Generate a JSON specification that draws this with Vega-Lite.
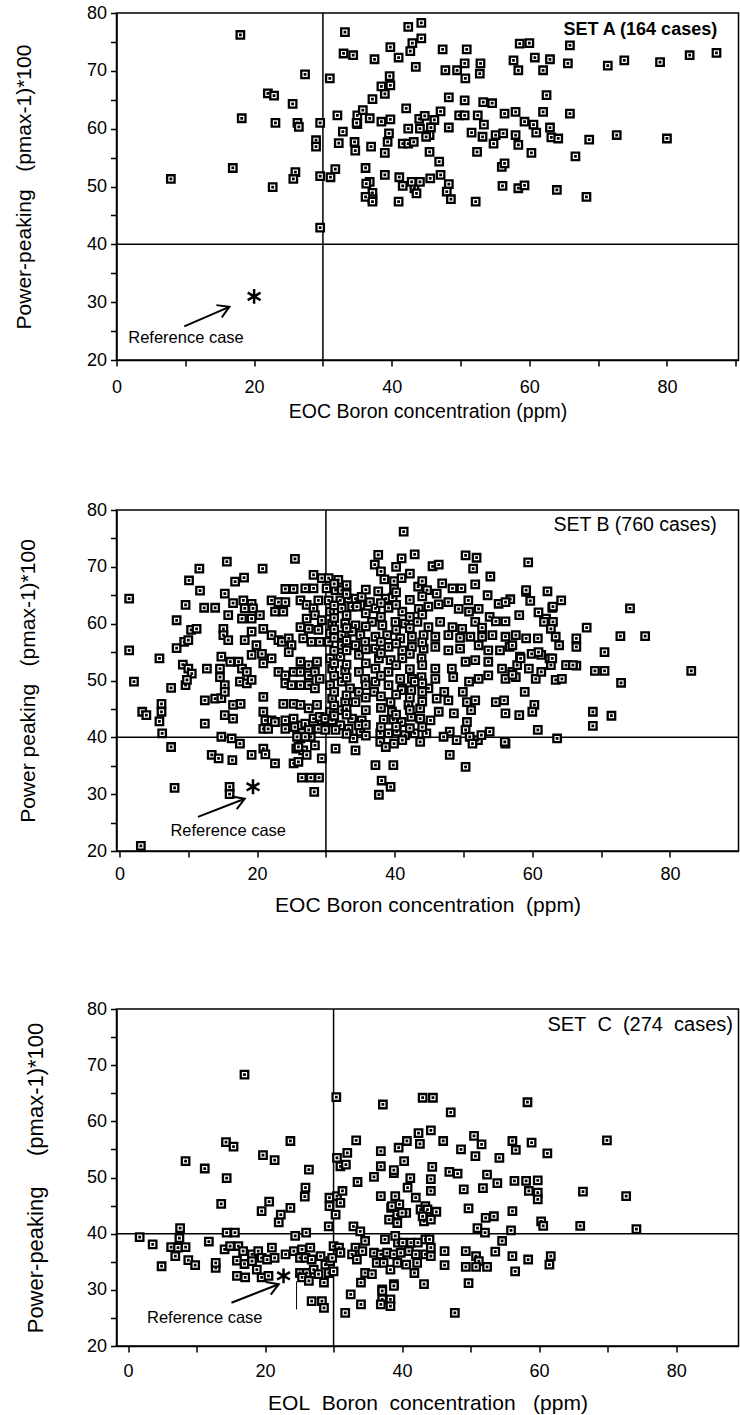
{
"$schema": "https://vega.github.io/schema/vega-lite/v6.json",
"background": "white",
"padding": {"left": 12.5, "top": 3, "right": 0, "bottom": 0},
"spacing": 78,
"config": {
 "view": {"stroke": "black", "strokeWidth": 1.5},
 "axis": {"domainColor": "black", "domainWidth": 1.5, "tickColor": "black", "tickWidth": 1.5, "tickSize": 6, "labelColor": "black", "titleColor": "black", "labelFont": "Liberation Sans", "titleFont": "Liberation Sans", "labelFontSize": 18, "titleFontWeight": "normal", "grid": false, "labelFlush": false, "labelOverlap": false},
 "text": {"font": "Liberation Sans", "color": "black"}
},
"datasets": {
 "A": [
 {"x":42.4,"y":77.6},{"x":44.3,"y":78.3},{"x":43.0,"y":74.8},{"x":42.7,"y":73.4},{"x":44.3,"y":75.6},{"x":39.8,"y":74.1},{"x":41.0,"y":72.3},{"x":37.5,"y":72.0},{"x":43.5,"y":70.7},{"x":47.4,"y":73.7},{"x":50.9,"y":73.7},{"x":47.8,"y":70.1},{"x":49.5,"y":70.1},{"x":50.6,"y":71.3},{"x":50.7,"y":68.7},{"x":52.9,"y":71.3},{"x":52.8,"y":69.5},{"x":58.6,"y":74.7},{"x":60.0,"y":74.8},{"x":57.7,"y":71.8},{"x":58.4,"y":70.1},{"x":60.8,"y":72.3},{"x":63.0,"y":72.0},{"x":62.0,"y":70.1},{"x":65.9,"y":74.4},{"x":65.6,"y":71.3},{"x":71.4,"y":70.9},{"x":73.8,"y":71.8},{"x":79.0,"y":71.5},{"x":83.3,"y":72.7},{"x":87.2,"y":73.1},{"x":39.7,"y":69.1},{"x":39.8,"y":67.5},{"x":39.0,"y":66.0},{"x":38.5,"y":67.3},{"x":37.2,"y":65.1},{"x":36.8,"y":61.8},{"x":38.5,"y":61.2},{"x":39.8,"y":61.6},{"x":39.6,"y":59.2},{"x":39.4,"y":57.7},{"x":39.0,"y":55.8},{"x":37.0,"y":56.9},{"x":42.1,"y":63.5},{"x":42.4,"y":60.0},{"x":41.6,"y":57.4},{"x":42.4,"y":57.4},{"x":43.2,"y":57.7},{"x":44.0,"y":61.7},{"x":44.8,"y":62.2},{"x":46.2,"y":61.5},{"x":47.1,"y":63.0},{"x":45.7,"y":60.2},{"x":44.1,"y":60.0},{"x":45.5,"y":58.9},{"x":45.0,"y":58.6},{"x":45.5,"y":56.0},{"x":46.9,"y":54.3},{"x":48.3,"y":60.2},{"x":48.3,"y":65.4},{"x":50.6,"y":64.9},{"x":49.8,"y":62.3},{"x":50.6,"y":62.3},{"x":51.6,"y":59.3},{"x":53.2,"y":58.6},{"x":53.3,"y":64.6},{"x":54.6,"y":64.4},{"x":52.5,"y":62.3},{"x":53.4,"y":60.7},{"x":52.4,"y":56.0},{"x":55.1,"y":58.9},{"x":56.2,"y":59.2},{"x":54.8,"y":57.4},{"x":56.4,"y":62.6},{"x":58.0,"y":62.9},{"x":59.3,"y":61.2},{"x":60.6,"y":60.7},{"x":61.0,"y":59.3},{"x":58.0,"y":58.9},{"x":58.4,"y":57.2},{"x":60.3,"y":55.8},{"x":62.0,"y":62.9},{"x":62.5,"y":65.8},{"x":63.0,"y":60.2},{"x":63.2,"y":58.5},{"x":64.2,"y":58.3},{"x":65.9,"y":62.6},{"x":68.7,"y":58.1},{"x":72.7,"y":58.9},{"x":80.0,"y":58.3},{"x":66.7,"y":55.2},{"x":56.0,"y":53.4},{"x":56.4,"y":54.0},{"x":39.0,"y":52.0},{"x":41.1,"y":51.6},{"x":41.6,"y":50.1},{"x":43.3,"y":49.7},{"x":44.1,"y":50.8},{"x":42.9,"y":50.8},{"x":43.6,"y":48.8},{"x":41.0,"y":47.4},{"x":45.6,"y":51.4},{"x":47.1,"y":52.0},{"x":48.3,"y":50.4},{"x":48.0,"y":49.1},{"x":48.6,"y":47.8},{"x":52.2,"y":47.4},{"x":56.1,"y":50.1},{"x":58.4,"y":49.7},{"x":59.3,"y":50.2},{"x":64.0,"y":49.4},{"x":68.3,"y":48.2},{"x":36.8,"y":50.8},{"x":37.2,"y":48.9},{"x":37.2,"y":47.8},
 {"x":7.9,"y":51.3},{"x":18.0,"y":76.2},{"x":18.2,"y":61.8},{"x":16.9,"y":53.2},{"x":27.4,"y":69.4},{"x":22.0,"y":66.1},{"x":22.9,"y":65.7},{"x":23.1,"y":61.0},{"x":25.6,"y":64.3},{"x":26.3,"y":61.0},{"x":26.5,"y":60.3},{"x":22.7,"y":49.9},{"x":26.0,"y":52.5},{"x":25.7,"y":51.3},{"x":29.0,"y":58.0},{"x":29.0,"y":56.9},{"x":29.6,"y":61.0},{"x":29.6,"y":51.8},{"x":29.6,"y":42.9},{"x":31.0,"y":68.7},{"x":31.1,"y":51.6},{"x":31.8,"y":53.0},{"x":32.1,"y":62.3},{"x":32.3,"y":57.5},{"x":32.9,"y":59.5},{"x":33.2,"y":76.7},{"x":33.0,"y":73.0},{"x":34.4,"y":72.7},{"x":34.6,"y":57.7},{"x":35.0,"y":62.3},{"x":35.0,"y":60.8},{"x":35.8,"y":63.2},{"x":36.2,"y":53.2},{"x":36.3,"y":50.5},{"x":36.2,"y":48.2},{"x":34.7,"y":56.2},{"x":37.2,"y":47.4},{"x":34.9,"y":61.0}
 ],
 "B": [
 {"x":1.4,"y":64.4},{"x":1.4,"y":55.3},{"x":2.1,"y":49.8},{"x":3.3,"y":44.5},{"x":3.9,"y":43.9},{"x":3.1,"y":20.9},{"x":5.8,"y":53.9},{"x":6.1,"y":45.9},{"x":6.1,"y":44.5},{"x":5.8,"y":42.8},{"x":6.2,"y":40.7},{"x":7.5,"y":48.7},{"x":7.5,"y":38.3},{"x":8.0,"y":31.1},{"x":8.3,"y":60.6},{"x":8.3,"y":55.7},{"x":9.4,"y":56.8},{"x":10.0,"y":57.1},{"x":9.6,"y":63.3},{"x":10.1,"y":67.6},{"x":10.4,"y":58.9},{"x":11.2,"y":59.1},{"x":9.2,"y":52.8},{"x":10.0,"y":52.1},{"x":10.5,"y":51.2},{"x":9.6,"y":49.2},{"x":9.8,"y":50.1},{"x":11.6,"y":69.7},{"x":11.7,"y":65.8},{"x":12.3,"y":62.8},{"x":13.9,"y":62.8},{"x":12.7,"y":52.1},{"x":12.4,"y":46.5},{"x":13.9,"y":46.8},{"x":14.8,"y":46.9},{"x":12.4,"y":42.4},{"x":15.6,"y":70.9},{"x":15.3,"y":65.3},{"x":16.5,"y":63.6},{"x":15.8,"y":61.5},{"x":15.1,"y":59.1},{"x":15.1,"y":58.0},{"x":15.8,"y":57.1},{"x":14.8,"y":54.2},{"x":14.6,"y":52.1},{"x":14.6,"y":50.6},{"x":15.3,"y":49.2},{"x":15.3,"y":48.0},{"x":16.1,"y":53.3},{"x":17.3,"y":53.3},{"x":16.5,"y":45.7},{"x":17.6,"y":45.9},{"x":15.3,"y":43.9},{"x":16.5,"y":43.3},{"x":14.8,"y":40.1},{"x":16.3,"y":39.8},{"x":17.5,"y":38.9},{"x":13.4,"y":36.9},{"x":14.4,"y":36.3},{"x":16.4,"y":36.0},{"x":16.0,"y":31.3},{"x":16.0,"y":30.0},{"x":16.8,"y":67.4},{"x":18.1,"y":68.1},
 {"x":18.0,"y":64.1},{"x":19.2,"y":63.5},{"x":18.2,"y":62.7},{"x":19.4,"y":62.7},{"x":17.8,"y":60.9},{"x":19.2,"y":60.9},{"x":20.4,"y":61.5},{"x":19.2,"y":58.6},{"x":19.9,"y":56.2},{"x":20.9,"y":59.1},{"x":18.2,"y":57.1},
 {"x":17.8,"y":52.1},{"x":18.5,"y":51.5},{"x":17.5,"y":49.8},{"x":18.5,"y":49.5},{"x":19.2,"y":50.1},{"x":19.2,"y":54.5},{"x":20.7,"y":54.7},{"x":20.9,"y":53.0},{"x":20.9,"y":47.1},
 {"x":20.9,"y":44.5},{"x":21.2,"y":43.0},{"x":20.9,"y":41.5},{"x":22.1,"y":43.0},{"x":21.6,"y":41.5},{"x":19.2,"y":36.9},{"x":20.9,"y":38.0},{"x":21.2,"y":37.0},{"x":22.6,"y":35.4},{"x":20.8,"y":69.7},
 {"x":22.1,"y":64.1},{"x":23.1,"y":63.8},{"x":22.6,"y":62.1},{"x":23.8,"y":62.1},{"x":24.1,"y":63.8},
 {"x":22.1,"y":58.0},{"x":23.1,"y":57.1},{"x":23.6,"y":56.8},{"x":24.6,"y":57.4},{"x":25.0,"y":56.2},{"x":24.6,"y":55.0},
 {"x":22.1,"y":53.9},{"x":23.1,"y":51.5},{"x":24.1,"y":50.9},{"x":25.3,"y":51.5},{"x":24.1,"y":49.5},{"x":25.0,"y":49.2},
 {"x":24.1,"y":66.1},{"x":25.3,"y":66.1},{"x":25.5,"y":71.4},{"x":23.8,"y":45.9},{"x":25.3,"y":45.9},
 {"x":22.6,"y":42.7},{"x":24.1,"y":43.0},{"x":24.1,"y":41.5},{"x":25.3,"y":43.3},{"x":25.5,"y":41.8},
 {"x":25.3,"y":35.4},{"x":26.0,"y":35.7},{"x":25.7,"y":38.0},{"x":26.5,"y":32.9},{"x":27.8,"y":32.9},{"x":29.0,"y":32.9},{"x":28.3,"y":30.4},
 {"x":28.2,"y":68.6},{"x":29.4,"y":68.0},{"x":27.0,"y":66.2},{"x":28.2,"y":66.2},{"x":26.3,"y":64.1},{"x":27.2,"y":63.3},{"x":28.2,"y":62.7},{"x":28.9,"y":64.1},{"x":27.2,"y":60.9},{"x":28.4,"y":61.5},{"x":29.4,"y":60.6},{"x":26.3,"y":59.4},{"x":27.5,"y":59.1},{"x":28.9,"y":58.9},{"x":26.7,"y":57.4},{"x":27.9,"y":56.8},{"x":29.1,"y":56.8},
 {"x":26.3,"y":53.3},{"x":27.5,"y":52.7},{"x":28.7,"y":53.3},{"x":26.3,"y":51.5},{"x":27.5,"y":50.9},{"x":28.4,"y":51.5},{"x":26.3,"y":49.2},{"x":27.5,"y":49.2},{"x":28.4,"y":48.6},{"x":29.1,"y":50.3},
 {"x":26.3,"y":45.7},{"x":27.5,"y":45.1},{"x":28.7,"y":45.7},{"x":28.2,"y":43.3},{"x":29.4,"y":43.0},{"x":26.5,"y":42.1},{"x":27.8,"y":41.5},{"x":28.9,"y":41.5},{"x":29.1,"y":43.6},
 {"x":26.3,"y":39.8},{"x":27.8,"y":40.1},{"x":26.7,"y":37.7},{"x":28.4,"y":38.6},{"x":27.2,"y":36.9},{"x":29.4,"y":36.3},
 {"x":30.4,"y":68.0},{"x":31.8,"y":67.7},{"x":30.1,"y":66.2},{"x":31.4,"y":65.9},{"x":32.3,"y":65.9},{"x":30.4,"y":64.1},{"x":32.1,"y":64.1},{"x":33.3,"y":64.4},{"x":34.3,"y":64.4},{"x":30.6,"y":62.1},{"x":32.3,"y":62.7},{"x":33.8,"y":63.0},{"x":35.0,"y":63.3},{"x":30.9,"y":60.0},{"x":32.8,"y":60.0},{"x":34.3,"y":59.7},{"x":30.6,"y":58.3},{"x":32.3,"y":58.0},{"x":33.8,"y":58.6},{"x":35.0,"y":58.0},{"x":30.4,"y":56.8},{"x":32.3,"y":56.2},{"x":34.3,"y":56.2},{"x":35.7,"y":56.8},
 {"x":30.6,"y":53.9},{"x":32.1,"y":54.2},{"x":34.8,"y":54.5},{"x":30.9,"y":52.1},{"x":32.8,"y":51.8},{"x":34.8,"y":51.5},{"x":35.7,"y":50.3},{"x":30.6,"y":49.2},{"x":32.3,"y":49.8},{"x":33.5,"y":48.6},{"x":34.8,"y":48.0},{"x":30.9,"y":46.8},{"x":32.8,"y":46.2},{"x":34.3,"y":46.2},{"x":30.6,"y":44.5},{"x":32.3,"y":44.8},{"x":33.8,"y":43.3},{"x":35.2,"y":43.0},{"x":30.9,"y":42.7},{"x":31.9,"y":42.1},{"x":33.3,"y":41.5},{"x":35.0,"y":41.0},{"x":34.0,"y":39.8},{"x":34.3,"y":37.7},
 {"x":35.2,"y":64.7},{"x":36.4,"y":63.8},{"x":34.5,"y":63.0},{"x":29.9,"y":43.3},{"x":30.9,"y":43.0},{"x":32.1,"y":42.1},{"x":34.8,"y":42.1},{"x":29.9,"y":41.3},{"x":31.4,"y":41.3},{"x":27.0,"y":42.4},{"x":27.5,"y":41.3},{"x":25.8,"y":40.1},{"x":27.0,"y":40.1},{"x":26.0,"y":38.3},{"x":31.4,"y":38.0},
 {"x":41.3,"y":76.2},{"x":37.6,"y":72.1},{"x":37.1,"y":70.4},{"x":41.0,"y":71.5},{"x":42.9,"y":72.2},{"x":45.5,"y":70.1},{"x":46.4,"y":70.4},{"x":50.3,"y":72.0},{"x":51.9,"y":71.6},{"x":51.4,"y":69.7},{"x":59.4,"y":70.8},{"x":53.9,"y":68.3},
 {"x":38.5,"y":67.8},{"x":39.9,"y":67.5},{"x":41.0,"y":68.0},{"x":37.6,"y":65.7},{"x":39.9,"y":66.1},{"x":38.7,"y":64.4},{"x":39.7,"y":64.6},
 {"x":43.4,"y":66.5},{"x":44.7,"y":65.9},{"x":46.9,"y":67.1},{"x":46.1,"y":65.3},{"x":48.4,"y":66.2},{"x":49.7,"y":66.2},{"x":51.7,"y":66.9},{"x":53.5,"y":65.0},{"x":50.7,"y":64.1},
 {"x":55.1,"y":63.5},{"x":56.8,"y":64.3},{"x":56.1,"y":63.8},{"x":59.1,"y":65.6},{"x":59.7,"y":64.0},{"x":62.2,"y":65.7},{"x":62.9,"y":62.8},{"x":60.9,"y":62.0},{"x":58.1,"y":61.5},{"x":62.0,"y":60.9},{"x":63.0,"y":60.3},
 {"x":37.2,"y":62.7},{"x":39.1,"y":62.8},{"x":41.1,"y":62.1},{"x":43.5,"y":62.6},{"x":44.9,"y":63.0},{"x":46.4,"y":63.4},{"x":47.8,"y":63.8},{"x":49.3,"y":62.6},{"x":50.8,"y":62.1},{"x":52.2,"y":62.6},{"x":53.8,"y":61.2},{"x":54.7,"y":60.4},{"x":56.1,"y":60.4},
 {"x":36.7,"y":60.3},{"x":38.2,"y":59.7},{"x":40.1,"y":60.3},{"x":41.5,"y":60.0},{"x":43.3,"y":60.3},{"x":44.9,"y":59.4},{"x":46.6,"y":60.3},{"x":48.4,"y":59.4},{"x":49.8,"y":59.1},{"x":51.7,"y":60.3},{"x":52.7,"y":59.3},
 {"x":37.2,"y":57.7},{"x":38.9,"y":58.0},{"x":40.8,"y":57.4},{"x":42.5,"y":57.7},{"x":44.2,"y":58.0},{"x":45.9,"y":57.7},{"x":47.8,"y":58.0},{"x":49.5,"y":57.5},{"x":51.0,"y":57.7},{"x":52.7,"y":57.7},{"x":54.2,"y":58.0},{"x":56.1,"y":57.7},{"x":57.6,"y":58.0},{"x":59.1,"y":57.4},{"x":60.8,"y":57.4},
 {"x":37.2,"y":55.6},{"x":39.1,"y":55.9},{"x":41.1,"y":55.3},{"x":42.5,"y":55.9},{"x":44.2,"y":55.6},{"x":45.9,"y":55.9},{"x":47.8,"y":55.3},{"x":49.5,"y":55.6},{"x":52.2,"y":56.2},{"x":53.6,"y":55.3},{"x":55.3,"y":55.3},{"x":56.7,"y":55.9},{"x":58.2,"y":54.2},{"x":59.9,"y":54.7},{"x":61.3,"y":54.5},{"x":62.5,"y":53.9},
 {"x":37.7,"y":53.9},{"x":39.4,"y":53.6},{"x":41.1,"y":53.9},{"x":43.9,"y":53.9},{"x":45.9,"y":52.1},{"x":48.3,"y":52.1},{"x":50.3,"y":53.3},{"x":51.7,"y":53.6},{"x":53.6,"y":53.3},{"x":55.6,"y":52.1},{"x":57.1,"y":51.5},{"x":43.9,"y":50.6},{"x":45.9,"y":50.3},{"x":48.5,"y":50.6},{"x":50.8,"y":49.8},{"x":56.1,"y":50.3},{"x":57.6,"y":50.6},{"x":60.5,"y":50.3},
 {"x":37.2,"y":52.1},{"x":39.1,"y":51.5},{"x":40.8,"y":50.3},{"x":42.5,"y":50.3},
 {"x":37.2,"y":49.8},{"x":39.1,"y":49.2},{"x":41.1,"y":48.6},{"x":42.9,"y":49.8},{"x":44.9,"y":48.6},{"x":52.2,"y":50.3},{"x":53.6,"y":50.9},{"x":57.8,"y":52.7},{"x":59.5,"y":52.1},{"x":61.3,"y":51.5},{"x":62.7,"y":52.7},
 {"x":74.2,"y":62.7},{"x":72.8,"y":57.8},{"x":76.4,"y":57.8},{"x":67.9,"y":59.3},{"x":66.4,"y":57.4},{"x":66.4,"y":55.9},{"x":70.5,"y":55.0},{"x":83.1,"y":51.7},{"x":69.1,"y":51.7},{"x":70.5,"y":51.7},{"x":66.4,"y":52.6},{"x":65.1,"y":52.7},{"x":72.9,"y":49.6},{"x":63.4,"y":50.1},{"x":64.3,"y":50.3},{"x":58.9,"y":48.0},{"x":60.3,"y":45.7},{"x":60.0,"y":44.5},{"x":68.8,"y":44.5},{"x":68.8,"y":42.0},{"x":71.5,"y":43.8},{"x":58.1,"y":43.9},{"x":56.1,"y":44.2},{"x":54.7,"y":46.2},{"x":55.9,"y":46.5},{"x":60.8,"y":41.3},{"x":63.6,"y":39.8},{"x":56.1,"y":38.9},{"x":50.3,"y":34.8},{"x":48.0,"y":36.9},{"x":37.2,"y":35.1},{"x":39.8,"y":35.1},{"x":38.1,"y":32.4},{"x":39.4,"y":31.3},{"x":37.7,"y":29.9},
 {"x":59.1,"y":65.9},{"x":63.0,"y":63.0},{"x":64.2,"y":64.1},{"x":61.7,"y":60.3},{"x":62.7,"y":59.1},{"x":63.4,"y":57.7},{"x":63.9,"y":56.2},{"x":60.9,"y":55.0},{"x":62.9,"y":53.9},{"x":64.9,"y":52.7},{"x":65.9,"y":52.7},{"x":57.1,"y":56.2},{"x":58.3,"y":53.9},{"x":57.1,"y":51.0},
 {"x":41.0,"y":48.3},{"x":42.4,"y":48.3},{"x":44.0,"y":48.0},{"x":47.2,"y":48.0},{"x":49.9,"y":48.0},
 {"x":39.4,"y":46.2},{"x":42.0,"y":45.7},{"x":43.7,"y":45.1},{"x":46.1,"y":46.8},{"x":47.8,"y":46.5},{"x":50.5,"y":46.2},{"x":51.7,"y":46.5},
 {"x":39.6,"y":44.5},{"x":43.7,"y":43.3},{"x":45.2,"y":43.0},{"x":46.4,"y":44.5},{"x":48.6,"y":44.2},{"x":51.1,"y":44.8},
 {"x":38.4,"y":43.1},{"x":39.8,"y":43.1},{"x":41.0,"y":42.7},{"x":42.4,"y":43.6},{"x":50.5,"y":42.7},{"x":50.3,"y":41.3},
 {"x":37.9,"y":40.7},{"x":39.1,"y":40.7},{"x":40.3,"y":41.0},{"x":41.5,"y":40.4},{"x":42.9,"y":40.7},{"x":44.6,"y":40.7},{"x":48.0,"y":41.0},{"x":49.0,"y":39.5},{"x":50.9,"y":40.1},{"x":52.1,"y":39.5},{"x":52.6,"y":40.4},{"x":53.8,"y":41.0},{"x":56.0,"y":39.2},
 {"x":37.9,"y":39.2},{"x":38.7,"y":38.3},{"x":39.9,"y":38.9},{"x":41.1,"y":39.5},{"x":43.7,"y":39.2},{"x":47.1,"y":40.1},{"x":51.3,"y":38.9},{"x":37.0,"y":48.0},
 {"x":31.2,"y":67.0},{"x":31.2,"y":63.2},{"x":31.2,"y":61.0},{"x":31.2,"y":59.0},{"x":31.2,"y":57.5},{"x":31.2,"y":55.2},{"x":31.2,"y":53.0},{"x":31.2,"y":50.8},{"x":31.2,"y":48.0},{"x":31.2,"y":45.6},{"x":31.2,"y":43.8},
 {"x":33.0,"y":66.8},{"x":33.0,"y":65.2},{"x":33.0,"y":61.5},{"x":33.0,"y":59.2},{"x":33.0,"y":57.0},{"x":33.0,"y":55.3},{"x":33.0,"y":52.8},{"x":33.0,"y":50.5},{"x":33.0,"y":47.4},{"x":33.0,"y":45.0},{"x":33.0,"y":44.0},{"x":33.0,"y":40.6},
 {"x":35.8,"y":66.0},{"x":35.8,"y":61.8},{"x":35.8,"y":59.5},{"x":35.8,"y":55.5},{"x":35.8,"y":53.0},{"x":35.8,"y":49.2},{"x":35.8,"y":47.0},{"x":35.8,"y":44.8},{"x":35.8,"y":42.2},{"x":35.8,"y":40.3},
 {"x":38.0,"y":69.2},{"x":38.0,"y":63.6},{"x":38.0,"y":61.2},{"x":38.0,"y":56.8},{"x":38.0,"y":54.8},{"x":38.0,"y":50.8},{"x":38.0,"y":47.2},{"x":38.0,"y":45.2},{"x":38.0,"y":41.8},
 {"x":40.2,"y":70.0},{"x":40.2,"y":65.5},{"x":40.2,"y":63.3},{"x":40.2,"y":58.9},{"x":40.2,"y":56.5},{"x":40.2,"y":52.7},{"x":40.2,"y":47.5},{"x":40.2,"y":44.0},{"x":40.2,"y":41.9},
 {"x":42.2,"y":68.8},{"x":42.2,"y":64.2},{"x":42.2,"y":61.2},{"x":42.2,"y":59.2},{"x":42.2,"y":54.7},{"x":42.2,"y":52.0},{"x":42.2,"y":47.0},{"x":42.2,"y":44.8},{"x":42.2,"y":41.6},
 {"x":44.0,"y":67.5},{"x":44.0,"y":64.8},{"x":44.0,"y":61.6},{"x":44.0,"y":56.7},{"x":44.0,"y":52.7},{"x":44.0,"y":49.5},{"x":44.0,"y":46.3},{"x":44.0,"y":41.8}
 ],
 "C": [
 {"x":1.7,"y":39.4},{"x":3.6,"y":38.1},{"x":4.9,"y":34.2},{"x":6.3,"y":37.6},{"x":7.3,"y":37.5},{"x":6.9,"y":36.0},{"x":7.5,"y":39.2},{"x":7.6,"y":41.0},{"x":8.4,"y":37.6},{"x":8.8,"y":35.3},{"x":9.8,"y":34.4},{"x":8.4,"y":52.9},{"x":11.2,"y":51.6},{"x":11.8,"y":38.6},{"x":12.8,"y":33.9},{"x":12.8,"y":34.8},{"x":13.6,"y":45.3},{"x":14.3,"y":56.3},{"x":15.4,"y":55.5},{"x":14.4,"y":49.9},{"x":14.4,"y":40.2},{"x":15.6,"y":40.2},{"x":14.1,"y":37.2},{"x":14.9,"y":37.8},{"x":16.1,"y":37.8},{"x":16.8,"y":36.9},{"x":15.9,"y":35.2},{"x":17.0,"y":34.6},{"x":15.9,"y":32.5},{"x":17.1,"y":32.2},{"x":17.0,"y":68.3},
 {"x":18.1,"y":36.3},{"x":18.1,"y":35.1},{"x":19.0,"y":36.9},{"x":19.5,"y":35.7},{"x":20.3,"y":35.4},{"x":21.0,"y":37.5},{"x":18.8,"y":33.6},{"x":19.5,"y":32.2},{"x":20.5,"y":32.5},{"x":21.4,"y":35.7},
 {"x":19.5,"y":44.0},{"x":19.7,"y":54.0},{"x":20.6,"y":45.7},{"x":21.4,"y":53.1},{"x":22.0,"y":42.0},{"x":22.3,"y":43.4},{"x":23.7,"y":44.6},{"x":23.7,"y":56.5},{"x":23.0,"y":36.3},{"x":24.2,"y":36.9},{"x":24.4,"y":39.6},{"x":25.8,"y":46.6},{"x":25.9,"y":48.2},{"x":26.4,"y":51.4},
 {"x":25.4,"y":37.2},{"x":26.6,"y":37.5},{"x":25.1,"y":35.7},{"x":25.9,"y":35.7},{"x":26.8,"y":35.4},{"x":25.1,"y":33.0},{"x":26.1,"y":33.0},{"x":27.1,"y":33.6},{"x":25.4,"y":32.2},{"x":26.4,"y":31.6},
 {"x":26.8,"y":28.0},{"x":28.3,"y":28.0},{"x":28.6,"y":26.8},
 {"x":28.1,"y":36.0},{"x":28.8,"y":34.5},{"x":27.8,"y":32.8},{"x":28.6,"y":31.3},{"x":29.3,"y":33.0},{"x":29.5,"y":35.1},
 {"x":29.3,"y":41.3},{"x":29.4,"y":44.9},{"x":29.4,"y":46.4},{"x":30.3,"y":43.4},{"x":30.5,"y":46.7},
 {"x":30.4,"y":64.3},{"x":30.5,"y":53.5},{"x":31.0,"y":52.0},{"x":32.0,"y":54.4},{"x":31.8,"y":52.3},{"x":31.3,"y":47.6},{"x":31.0,"y":45.5},{"x":33.3,"y":56.6},{"x":33.5,"y":49.2},
 {"x":30.0,"y":37.8},{"x":30.8,"y":37.5},{"x":29.8,"y":35.7},{"x":30.0,"y":33.3},{"x":31.7,"y":25.9},{"x":32.5,"y":29.2},{"x":34.0,"y":27.4},
 {"x":32.9,"y":41.3},{"x":33.9,"y":40.4},{"x":34.6,"y":38.7},{"x":33.2,"y":37.5},{"x":34.2,"y":36.9},{"x":32.7,"y":36.3},{"x":34.0,"y":31.3},{"x":34.6,"y":33.0},
 {"x":31.0,"y":36.6},{"x":33.4,"y":35.4},{"x":26.0,"y":40.2},
 {"x":35.9,"y":50.1},{"x":38.8,"y":50.8},{"x":36.9,"y":46.7},{"x":38.4,"y":44.6},{"x":39.6,"y":45.2},{"x":40.6,"y":43.7},{"x":39.3,"y":41.9},{"x":38.1,"y":42.5},{"x":41.2,"y":49.9},{"x":40.8,"y":48.2},{"x":42.0,"y":46.4},{"x":44.2,"y":49.7},{"x":44.2,"y":47.6},{"x":42.7,"y":44.3},{"x":43.4,"y":44.9},{"x":44.2,"y":43.4},{"x":43.2,"y":42.2},
 {"x":37.5,"y":39.0},{"x":39.4,"y":38.4},{"x":40.1,"y":38.4},{"x":41.3,"y":38.4},{"x":42.3,"y":38.4},{"x":43.4,"y":39.0},
 {"x":35.9,"y":36.6},{"x":36.9,"y":36.3},{"x":37.8,"y":36.6},{"x":38.8,"y":36.3},{"x":39.8,"y":36.6},{"x":41.0,"y":36.9},{"x":42.0,"y":36.3},{"x":43.4,"y":36.3},{"x":44.2,"y":37.5},{"x":44.2,"y":36.0},
 {"x":36.3,"y":34.8},{"x":37.3,"y":34.8},{"x":38.3,"y":33.6},{"x":39.3,"y":34.8},{"x":40.6,"y":34.5},{"x":41.8,"y":33.0},{"x":42.2,"y":34.8},{"x":35.6,"y":32.8},
 {"x":37.1,"y":30.1},{"x":38.8,"y":31.0},{"x":37.1,"y":28.3},{"x":38.3,"y":28.3},{"x":36.9,"y":27.4},{"x":38.3,"y":27.1},{"x":43.2,"y":31.0},
 {"x":37.2,"y":63.0},{"x":43.0,"y":64.2},{"x":44.5,"y":64.2},{"x":47.1,"y":61.6},{"x":58.3,"y":63.4},{"x":42.4,"y":57.9},{"x":44.2,"y":58.4},{"x":42.6,"y":56.0},{"x":40.7,"y":56.5},{"x":39.5,"y":55.3},{"x":46.0,"y":56.5},{"x":36.9,"y":54.7},{"x":48.6,"y":55.0},{"x":50.5,"y":57.4},{"x":51.6,"y":55.9},{"x":50.7,"y":53.8},{"x":54.2,"y":53.5},{"x":56.1,"y":56.5},{"x":56.6,"y":54.9},{"x":58.9,"y":56.2},{"x":61.2,"y":54.3},{"x":69.9,"y":56.6},
 {"x":40.3,"y":52.9},{"x":38.8,"y":51.3},{"x":36.9,"y":52.0},{"x":44.4,"y":51.9},{"x":46.9,"y":51.0},{"x":48.1,"y":50.7},
 {"x":39.0,"y":46.7},{"x":38.5,"y":44.9},{"x":39.3,"y":43.4},{"x":40.0,"y":43.7},{"x":43.7,"y":44.3},{"x":45.0,"y":43.9},{"x":43.0,"y":43.1},{"x":44.2,"y":42.5},
 {"x":49.0,"y":47.9},{"x":51.8,"y":48.1},{"x":49.7,"y":44.5},{"x":52.4,"y":50.5},{"x":53.9,"y":49.0},{"x":56.4,"y":49.4},{"x":58.1,"y":49.4},{"x":59.8,"y":49.5},{"x":58.5,"y":47.6},{"x":59.8,"y":47.3},{"x":59.8,"y":46.1},{"x":66.4,"y":47.5},{"x":72.7,"y":46.7},{"x":52.2,"y":42.8},{"x":53.4,"y":43.1},{"x":56.1,"y":44.0},{"x":51.0,"y":41.0},{"x":52.1,"y":40.2},{"x":55.9,"y":40.6},{"x":60.3,"y":42.2},{"x":60.6,"y":41.4},{"x":66.0,"y":41.4},{"x":74.2,"y":40.8},
 {"x":54.6,"y":38.7},{"x":53.6,"y":36.8},{"x":56.1,"y":36.0},{"x":56.5,"y":33.3},{"x":58.4,"y":35.4},{"x":61.7,"y":36.0},{"x":61.5,"y":34.5},
 {"x":49.3,"y":36.9},{"x":50.8,"y":36.0},{"x":51.2,"y":35.1},{"x":52.4,"y":34.1},{"x":49.3,"y":34.1},{"x":50.8,"y":34.1},{"x":49.7,"y":31.2},{"x":47.7,"y":25.9},{"x":46.2,"y":36.9},{"x":46.2,"y":34.4},{"x":44.0,"y":39.0},{"x":39.0,"y":39.6},
 {"x":38.8,"y":30.7},{"x":37.1,"y":29.8}
 ]
},
"vconcat": [
 {
  "width": 622, "height": 347,
  "encoding": {
   "x": {"field": "x", "type": "quantitative", "scale": {"domain": [0, 90.4], "nice": false, "zero": false},
    "axis": {"title": "EOC Boron concentration (ppm)", "titleFontSize": 19.5, "values": [0,10,20,30,40,50,60,70,80,90], "labelExpr": "datum.value % 20 === 0 ? datum.label : ''", "labelPadding": 12, "titlePadding": 6}},
   "y": {"field": "y", "type": "quantitative", "scale": {"domain": [20, 80], "nice": false, "zero": false},
    "axis": {"title": "Power-peaking\u00a0\u00a0 (pmax-1)*100", "titleFontSize": 21, "values": [20,25,30,35,40,45,50,55,60,65,70,75,80], "labelExpr": "datum.value % 10 === 0 ? datum.label : ''", "labelPadding": 4, "titlePadding": 51.5}}
  },
  "layer": [
   {"data": {"values": [{"x": 30, "y": 20, "y2": 80}]}, "mark": {"type": "rule", "color": "black", "strokeWidth": 1.5}, "encoding": {"y2": {"field": "y2"}}},
   {"data": {"values": [{"x": 0, "x2": 90.4, "y": 40}]}, "mark": {"type": "rule", "color": "black", "strokeWidth": 1.5}, "encoding": {"x2": {"field": "x2"}}},
   {"data": {"name": "A"}, "mark": {"type": "point", "shape": "M-1,-1H1V1H-1ZM-0.06,-0.06H0.06V0.06H-0.06Z", "size": 56, "filled": true, "fill": "white", "stroke": "black", "strokeWidth": 2.3, "opacity": 1}},
   {"data": {"values": [{"x": 20, "y": 31}]}, "mark": {"type": "point", "shape": "M0,-1L0,1M-0.866,-0.5L0.866,0.5M-0.866,0.5L0.866,-0.5", "size": 220, "filled": false, "stroke": "black", "strokeWidth": 2.5, "opacity": 1}},
   {"data": {"values": [{"x": 9.85, "y": 25.8, "x2": 16.4, "y2": 29.2}]}, "mark": {"type": "rule", "color": "black", "strokeWidth": 2}, "encoding": {"x2": {"field": "x2"}, "y2": {"field": "y2"}}},
   {"data": {"values": [{"x": 16.4, "y": 29.2}]}, "mark": {"type": "point", "shape": "M-1,-0.6L0,0L-1,0.6", "size": 500, "filled": false, "stroke": "black", "strokeWidth": 2, "angle": -23.6, "opacity": 1}},
   {"data": {"values": [{"x": 10.1, "y": 23.8, "t": "Reference case"}]}, "mark": {"type": "text", "fontSize": 16.5, "align": "center", "baseline": "middle"}, "encoding": {"text": {"field": "t"}}},
   {"data": {"values": [{"x": 87.3, "y": 77.0, "t": "SET A (164 cases)"}]}, "mark": {"type": "text", "fontSize": 18, "fontWeight": "bold", "align": "right", "baseline": "middle"}, "encoding": {"text": {"field": "t"}}}
  ]
 },
 {
  "width": 622, "height": 341,
  "encoding": {
   "x": {"field": "x", "type": "quantitative", "scale": {"domain": [-0.44, 89.97], "nice": false, "zero": false},
    "axis": {"title": "EOC Boron concentration\u00a0 (ppm)", "titleFontSize": 21, "values": [0,10,20,30,40,50,60,70,80], "labelExpr": "datum.value % 20 === 0 ? datum.label : ''", "labelPadding": 8.8, "titlePadding": 10.7}},
   "y": {"field": "y", "type": "quantitative", "scale": {"domain": [20, 80], "nice": false, "zero": false},
    "axis": {"title": "Power peaking\u00a0\u00a0 (pmax-1)*100", "titleFontSize": 21, "values": [20,25,30,35,40,45,50,55,60,65,70,75,80], "labelExpr": "datum.value % 10 === 0 ? datum.label : ''", "labelPadding": 4, "titlePadding": 47.5}}
  },
  "layer": [
   {"data": {"values": [{"x": 30, "y": 20, "y2": 80}]}, "mark": {"type": "rule", "color": "black", "strokeWidth": 1.5}, "encoding": {"y2": {"field": "y2"}}},
   {"data": {"values": [{"x": -0.44, "x2": 89.97, "y": 40}]}, "mark": {"type": "rule", "color": "black", "strokeWidth": 1.5}, "encoding": {"x2": {"field": "x2"}}},
   {"data": {"name": "B"}, "mark": {"type": "point", "shape": "M-1,-1H1V1H-1ZM-0.06,-0.06H0.06V0.06H-0.06Z", "size": 56, "filled": true, "fill": "white", "stroke": "black", "strokeWidth": 2.3, "opacity": 1}},
   {"data": {"values": [{"x": 19.4, "y": 31.3}]}, "mark": {"type": "point", "shape": "M0,-1L0,1M-0.866,-0.5L0.866,0.5M-0.866,0.5L0.866,-0.5", "size": 220, "filled": false, "stroke": "black", "strokeWidth": 2.5, "opacity": 1}},
   {"data": {"values": [{"x": 11.4, "y": 26.0, "x2": 18.2, "y2": 29.2}]}, "mark": {"type": "rule", "color": "black", "strokeWidth": 2}, "encoding": {"x2": {"field": "x2"}, "y2": {"field": "y2"}}},
   {"data": {"values": [{"x": 18.2, "y": 29.2}]}, "mark": {"type": "point", "shape": "M-1,-0.6L0,0L-1,0.6", "size": 500, "filled": false, "stroke": "black", "strokeWidth": 2, "angle": -21.3, "opacity": 1}},
   {"data": {"values": [{"x": 15.8, "y": 23.5, "t": "Reference case"}]}, "mark": {"type": "text", "fontSize": 16.5, "align": "center", "baseline": "middle"}, "encoding": {"text": {"field": "t"}}},
   {"data": {"values": [{"x": 86.8, "y": 77.4, "t": "SET B (760 cases)"}]}, "mark": {"type": "text", "fontSize": 19.5, "align": "right", "baseline": "middle"}, "encoding": {"text": {"field": "t"}}}
  ]
 },
 {
  "width": 622, "height": 337,
  "title": {"text": " ", "fontSize": 4, "offset": 0, "color": "white"},
  "encoding": {
   "x": {"field": "x", "type": "quantitative", "scale": {"domain": [-1.68, 89.1], "nice": false, "zero": false},
    "axis": {"title": "EOL\u00a0 Boron\u00a0 concentration\u00a0\u00a0 (ppm)", "titleFontSize": 21, "values": [0,10,20,30,40,50,60,70,80], "labelExpr": "datum.value % 20 === 0 ? datum.label : ''", "labelPadding": 10.3, "titlePadding": 12}},
   "y": {"field": "y", "type": "quantitative", "scale": {"domain": [20, 80], "nice": false, "zero": false},
    "axis": {"title": "Power-peaking\u00a0\u00a0\u00a0\u00a0 (pmax-1)*100", "titleFontSize": 22, "values": [20,25,30,35,40,45,50,55,60,65,70,75,80], "labelExpr": "datum.value % 10 === 0 ? datum.label : ''", "labelPadding": 4, "titlePadding": 39}}
  },
  "layer": [
   {"data": {"values": [{"x": 30, "y": 20, "y2": 80}]}, "mark": {"type": "rule", "color": "black", "strokeWidth": 1.5}, "encoding": {"y2": {"field": "y2"}}},
   {"data": {"values": [{"x": -1.68, "x2": 89.1, "y": 40}]}, "mark": {"type": "rule", "color": "black", "strokeWidth": 1.5}, "encoding": {"x2": {"field": "x2"}}},
   {"data": {"values": [{"x": 24.6, "y": 26.5, "y2": 31.5}]}, "mark": {"type": "rule", "color": "black", "strokeWidth": 1}, "encoding": {"y2": {"field": "y2"}}},
   {"data": {"name": "C"}, "mark": {"type": "point", "shape": "M-1,-1H1V1H-1ZM-0.06,-0.06H0.06V0.06H-0.06Z", "size": 56, "filled": true, "fill": "white", "stroke": "black", "strokeWidth": 2.3, "opacity": 1}},
   {"data": {"values": [{"x": 22.7, "y": 32.5}]}, "mark": {"type": "point", "shape": "M0,-1L0,1M-0.866,-0.5L0.866,0.5M-0.866,0.5L0.866,-0.5", "size": 220, "filled": false, "stroke": "black", "strokeWidth": 2.5, "opacity": 1}},
   {"data": {"values": [{"x": 15.1, "y": 27.7, "x2": 22.0, "y2": 31.0}]}, "mark": {"type": "rule", "color": "black", "strokeWidth": 2}, "encoding": {"x2": {"field": "x2"}, "y2": {"field": "y2"}}},
   {"data": {"values": [{"x": 22.0, "y": 31.0}]}, "mark": {"type": "point", "shape": "M-1,-0.6L0,0L-1,0.6", "size": 500, "filled": false, "stroke": "black", "strokeWidth": 2, "angle": -21.5, "opacity": 1}},
   {"data": {"values": [{"x": 11.2, "y": 25.0, "t": "Reference case"}]}, "mark": {"type": "text", "fontSize": 16.5, "align": "center", "baseline": "middle"}, "encoding": {"text": {"field": "t"}}},
   {"data": {"values": [{"x": 88.3, "y": 77.2, "t": "SET\u00a0 C\u00a0 (274\u00a0 cases)"}]}, "mark": {"type": "text", "fontSize": 20, "align": "right", "baseline": "middle"}, "encoding": {"text": {"field": "t"}}}
  ]
 }
]
}
